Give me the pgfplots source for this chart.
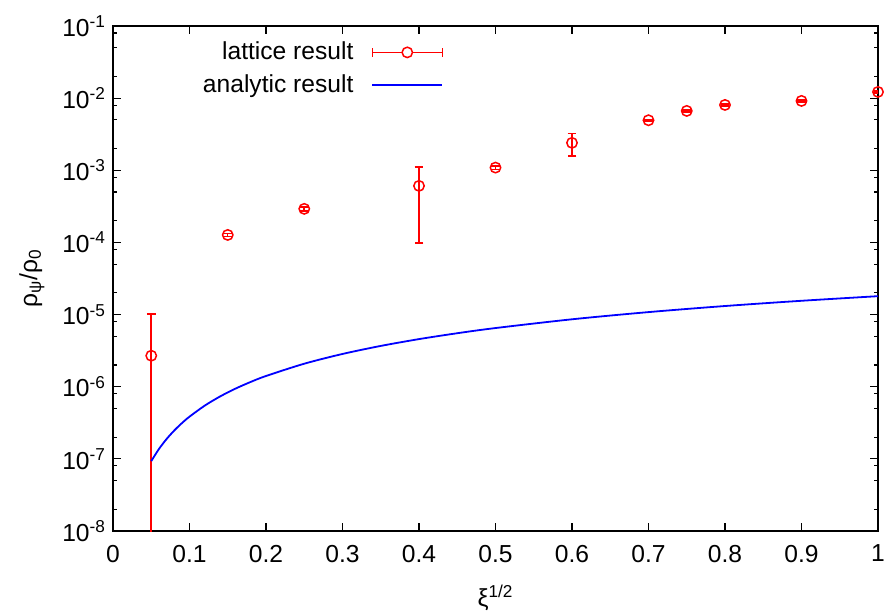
\documentclass[border=0pt]{standalone}
\usepackage{fontspec}
\setmainfont{Liberation Sans}
\usepackage{pgfplots}
\pgfplotsset{compat=1.18}
\newcommand{\fs}{\fontsize{12.3}{14}\selectfont}
\begin{document}
\begin{tikzpicture}
\useasboundingbox (-56.5pt,-42pt) rectangle (385.5pt,265.5pt);
\begin{axis}[
  at={(0,0)}, anchor=south west,
  scale only axis, width=382.5pt, height=252.5pt,
  xmin=0, xmax=1, ymin=1e-8, ymax=1e-1,
  ymode=log,
  axis line style={line width=0.6pt},
  every tick/.style={black, line width=0.6pt},
  major tick length=4pt, minor tick length=2pt,
  tick align=inside,
  xtick={0,0.1,0.2,0.3,0.4,0.5,0.6,0.7,0.8,0.9,1},
  xticklabels={0,0.1,0.2,0.3,0.4,0.5,0.6,0.7,0.8,0.9,1},
  ytick={1e-8,1e-7,1e-6,1e-5,1e-4,1e-3,1e-2,1e-1},
  yticklabels={10\textsuperscript{-8},10\textsuperscript{-7},10\textsuperscript{-6},10\textsuperscript{-5},10\textsuperscript{-4},10\textsuperscript{-3},10\textsuperscript{-2},10\textsuperscript{-1}},
  minor ytick={2e-8,5e-8,8e-8,2e-7,5e-7,8e-7,2e-6,5e-6,8e-6,2e-5,5e-5,8e-5,2e-4,5e-4,8e-4,2e-3,5e-3,8e-3,2e-2,5e-2,8e-2},
  tick label style={font=\fs},
  xticklabel style={yshift=-3.5pt},
  xlabel={ξ\textsuperscript{1/2}},
  ylabel={ρ\textsubscript{ψ}/ρ\textsubscript{0}},
  label style={font=\fs},
  xlabel style={at={(axis description cs:0.5,-0.133)}, anchor=center},
  ylabel style={at={(axis description cs:-0.106,0.5)}, anchor=center},
  legend style={at={(0.44,0.985)}, anchor=north east, draw=none, fill=none, font=\fs,
    row sep=2pt, /tikz/every odd column/.append style={column sep=7pt}},
  legend cell align=right,
  legend plot pos=right,
]
\addplot[red, line width=0.75pt, only marks, mark=o, mark size=2.6pt,
  mark options={line width=0.75pt}, forget plot,
  error bars/.cd, y dir=both, y explicit,
  error bar style={line width=0.75pt},
  error mark options={rotate=90, mark size=2.2pt, line width=0.75pt},
]
coordinates {
  (0.05,2.69e-6) += (0,7.5e-6) -= (0,2.6899e-6)
  (0.15,1.27e-4) +- (0,0.06e-4)
  (0.25,2.92e-4) +- (0,0.18e-4)
  (0.40,6.08e-4) +- (0,5.1e-4)
  (0.50,1.09e-3) +- (0,0.06e-3)
  (0.60,2.40e-3) +- (0,0.82e-3)
  (0.70,4.94e-3) +- (0,0.15e-3)
  (0.75,6.65e-3) +- (0,0.25e-3)
  (0.80,8.05e-3) +- (0,0.3e-3)
  (0.90,9.15e-3) +- (0,0.35e-3)
  (1.00,1.22e-2) +- (0,0.4e-3)
};
\addlegendimage{legend image code/.code={
  \draw[red, line width=0.75pt] (0pt,0pt) -- (35pt,0pt);
  \draw[red, line width=0.75pt] (0pt,-2.2pt) -- (0pt,2.2pt);
  \draw[red, line width=0.75pt] (35pt,-2.2pt) -- (35pt,2.2pt);
  \draw[red, line width=0.75pt, fill=white] (17.5pt,0pt) circle (2.6pt);
}}
\addplot[blue, line width=0.9pt, smooth, forget plot] coordinates {
  (0.05,9.30e-8)
  (0.06,1.367e-7)
  (0.07,1.881e-7)
  (0.08,2.468e-7)
  (0.09,3.124e-7)
  (0.10,3.846e-7)
  (0.12,5.475e-7)
  (0.14,7.332e-7)
  (0.16,9.397e-7)
  (0.18,1.165e-6)
  (0.20,1.408e-6)
  (0.25,2.084e-6)
  (0.30,2.845e-6)
  (0.35,3.677e-6)
  (0.40,4.570e-6)
  (0.45,5.514e-6)
  (0.50,6.506e-6)
  (0.60,8.602e-6)
  (0.70,1.082e-5)
  (0.80,1.314e-5)
  (0.90,1.553e-5)
  (1.00,1.799e-5)
};
\addlegendimage{legend image code/.code={
  \draw[blue, line width=0.9pt] (0pt,0pt) -- (35pt,0pt);
}}
\legend{lattice result, analytic result}
\end{axis}
\end{tikzpicture}
\end{document}
